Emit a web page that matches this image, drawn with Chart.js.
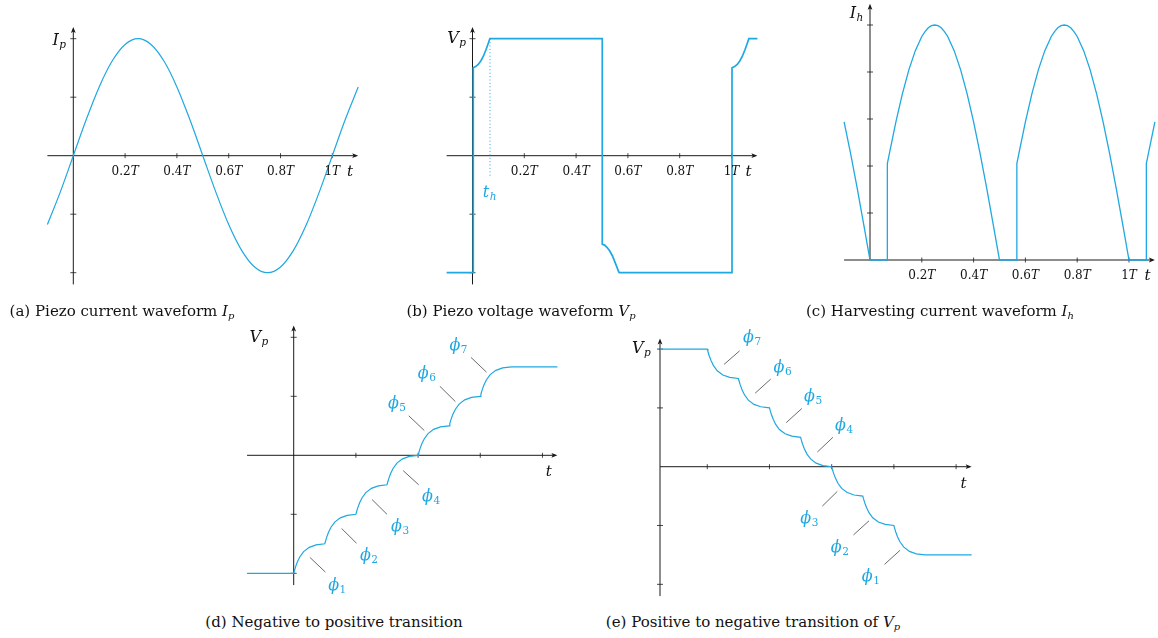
<!DOCTYPE html>
<html lang="en">
<head>
    <meta charset="UTF-8">
    <title>Piezo waveforms</title>
    <script src="https://cdnjs.cloudflare.com/ajax/libs/Chart.js/4.4.0/chart.umd.min.js"></script>
    <style>
        body {
            margin: 0;
            background: #fff;
            width: 1158px;
            height: 638px;
            position: relative;
            overflow: hidden;
            font-family: "DejaVu Serif", serif;
        }
        canvas {
            position: absolute;
        }
        .cap {
            position: absolute;
            width: 360px;
            text-align: center;
            font-size: 15px;
            line-height: 18px;
            color: #111;
            white-space: nowrap;
        }
        .cap i sub {
            font-size: 10px;
            line-height: 0;
            vertical-align: -3px;
        }
    </style>
</head>
<body>
    <canvas id="chartA" width="380" height="300" style="left:0px;top:0px"></canvas>
    <canvas id="chartB" width="400" height="300" style="left:380px;top:0px"></canvas>
    <canvas id="chartC" width="378" height="300" style="left:780px;top:0px"></canvas>
    <canvas id="chartD" width="380" height="290" style="left:200px;top:318px"></canvas>
    <canvas id="chartE" width="420" height="290" style="left:580px;top:318px"></canvas>

    <div class="cap" style="left:-58px;top:302px">(a) Piezo current waveform <i>I<sub>p</sub></i></div>
    <div class="cap" style="left:341px;top:302px">(b) Piezo voltage waveform <i>V<sub>p</sub></i></div>
    <div class="cap" style="left:760px;top:302px">(c) Harvesting current waveform <i>I<sub>h</sub></i></div>
    <div class="cap" style="left:154px;top:613px">(d) Negative to positive transition</div>
    <div class="cap" style="left:573px;top:613px">(e) Positive to negative transition of <i>V<sub>p</sub></i></div>

    <script>
        // (a) piezo current over one period (t in units of T)
        const ipTime = [-0.1, -0.05, 0, 0.05, 0.1, 0.15, 0.2, 0.25, 0.3, 0.35, 0.4, 0.45, 0.5,
                        0.55, 0.6, 0.65, 0.7, 0.75, 0.8, 0.85, 0.9, 0.95, 1.0, 1.05, 1.1];
        const ipValue = [-0.588, -0.309, 0, 0.309, 0.588, 0.809, 0.951, 1, 0.951, 0.809, 0.588, 0.309, 0,
                         -0.309, -0.588, -0.809, -0.951, -1, -0.951, -0.809, -0.588, -0.309, 0, 0.309, 0.588];

        // (b) piezo voltage with the switching flips
        const vpTime = [-0.1, 0.003, 0.003, 0.012, 0.022, 0.032, 0.042, 0.052, 0.06, 0.067,
                        0.501, 0.501, 0.51, 0.52, 0.53, 0.54, 0.55, 0.558, 0.564, 0.567,
                        1.002, 1.002, 1.012, 1.022, 1.032, 1.042, 1.052, 1.06, 1.067, 1.1];
        const vpValue = [-1, -1, 0.752, 0.762, 0.78, 0.81, 0.85, 0.905, 0.955, 1,
                         1, -0.757, -0.764, -0.785, -0.815, -0.855, -0.91, -0.955, -0.99, -1,
                         -1, 0.752, 0.762, 0.78, 0.81, 0.85, 0.905, 0.955, 1, 1];

        // (c) harvesting current (rectified, zero while the voltage flips)
        const ihTime = [-0.1, -0.075, -0.05, -0.025, 0, 0.067, 0.067,
                        0.075, 0.1, 0.125, 0.15, 0.175, 0.2, 0.2125, 0.225, 0.2375, 0.25, 0.2625, 0.275,
                        0.2875, 0.3, 0.325, 0.35, 0.375, 0.4, 0.425, 0.45, 0.475, 0.5, 0.567, 0.567,
                        0.575, 0.6, 0.625, 0.65, 0.675, 0.7, 0.7125, 0.725, 0.7375, 0.75, 0.7625, 0.775,
                        0.7875, 0.8, 0.825, 0.85, 0.875, 0.9, 0.925, 0.95, 0.975, 1.0, 1.067, 1.067,
                        1.075, 1.1];
        const ihValue = [0.588, 0.454, 0.309, 0.156, 0, 0, 0.41,
                         0.454, 0.588, 0.707, 0.809, 0.891, 0.951, 0.972, 0.988, 0.997, 1, 0.997, 0.988,
                         0.972, 0.951, 0.891, 0.809, 0.707, 0.588, 0.454, 0.309, 0.156, 0, 0, 0.41,
                         0.454, 0.588, 0.707, 0.809, 0.891, 0.951, 0.972, 0.988, 0.997, 1, 0.997, 0.988,
                         0.972, 0.951, 0.891, 0.809, 0.707, 0.588, 0.454, 0.309, 0.156, 0, 0, 0.41,
                         0.454, 0.588];

        // (d) stepwise rise of Vp through seven phases
        const dTime = [-0.75,
            0, 0.01, 0.03, 0.06, 0.1, 0.16, 0.25, 0.36,
            0.5, 0.51, 0.53, 0.56, 0.6, 0.66, 0.75, 0.86,
            1, 1.01, 1.03, 1.06, 1.1, 1.16, 1.25, 1.36,
            1.5, 1.51, 1.53, 1.56, 1.6, 1.66, 1.75, 1.86,
            2, 2.01, 2.03, 2.06, 2.1, 2.16, 2.25, 2.36,
            2.5, 2.51, 2.53, 2.56, 2.6, 2.66, 2.75, 2.86,
            3, 3.01, 3.03, 3.06, 3.1, 3.16, 3.25, 3.36,
            3.5, 4.24];
        const dVolt = [-2,
            -2, -1.961, -1.891, -1.806, -1.719, -1.632, -1.56, -1.519,
            -1.5, -1.461, -1.391, -1.306, -1.219, -1.132, -1.06, -1.019,
            -1, -0.961, -0.891, -0.806, -0.719, -0.632, -0.56, -0.519,
            -0.5, -0.461, -0.391, -0.306, -0.219, -0.132, -0.06, -0.019,
            0, 0.039, 0.109, 0.194, 0.281, 0.368, 0.44, 0.481,
            0.5, 0.539, 0.609, 0.694, 0.781, 0.868, 0.94, 0.981,
            1, 1.039, 1.109, 1.194, 1.281, 1.368, 1.44, 1.481,
            1.5, 1.5];

        // (e) stepwise fall of Vp through seven phases
        const eTime = [-0.76,
            0, 0.01, 0.03, 0.06, 0.1, 0.16, 0.25, 0.36,
            0.5, 0.51, 0.53, 0.56, 0.6, 0.66, 0.75, 0.86,
            1, 1.01, 1.03, 1.06, 1.1, 1.16, 1.25, 1.36,
            1.5, 1.51, 1.53, 1.56, 1.6, 1.66, 1.75, 1.86,
            2, 2.01, 2.03, 2.06, 2.1, 2.16, 2.25, 2.36,
            2.5, 2.51, 2.53, 2.56, 2.6, 2.66, 2.75, 2.86,
            3, 3.01, 3.03, 3.06, 3.1, 3.16, 3.25, 3.36,
            3.5, 4.25];
        const eVolt = [2,
            2, 1.961, 1.891, 1.806, 1.719, 1.632, 1.56, 1.519,
            1.5, 1.461, 1.391, 1.306, 1.219, 1.132, 1.06, 1.019,
            1, 0.961, 0.891, 0.806, 0.719, 0.632, 0.56, 0.519,
            0.5, 0.461, 0.391, 0.306, 0.219, 0.132, 0.06, 0.019,
            0, -0.039, -0.109, -0.194, -0.281, -0.368, -0.44, -0.481,
            -0.5, -0.539, -0.609, -0.694, -0.781, -0.868, -0.94, -0.981,
            -1, -1.039, -1.109, -1.194, -1.281, -1.368, -1.44, -1.481,
            -1.5, -1.5];

        // tick values and labels
        const periodTicks = [0.2, 0.4, 0.6, 0.8, 1];
        const periodTickText = ['0.2', '0.4', '0.6', '0.8', '1'];
        const halfTicks = [-1, -0.5, 0.5, 1];
        const ihTicks = [0.2, 0.4, 0.6, 0.8, 1];
        const stepTicksD = [1, 2, 3, 4];
        const stepTicksE = [0, 1, 2, 3, 4];
        const voltTicks = [-2, -1, 1, 2];

        // phase marks: leader line [x1, y1, x2, y2] and label spot [x, y] for phi_1..phi_7
        const dPhiLines = [[0.26, -1.73, 0.51, -1.98], [0.77, -1.24, 1.01, -1.49], [1.26, -0.75, 1.50, -1.00],
                           [1.76, -0.26, 2.01, -0.50], [1.85, 0.67, 2.10, 0.42], [2.35, 1.17, 2.60, 0.91],
                           [2.85, 1.66, 3.10, 1.41]];
        const dPhiSpots = [[0.70, -2.21], [1.21, -1.70], [1.71, -1.21], [2.21, -0.70], [1.66, 0.87], [2.14, 1.37], [2.65, 1.85]];
        const ePhiLines = [[2.85, -1.66, 3.10, -1.42], [2.35, -1.16, 2.60, -0.92], [1.85, -0.67, 2.09, -0.42],
                           [1.77, 0.25, 2.02, 0.50], [1.27, 0.75, 1.52, 0.99], [0.77, 1.25, 1.02, 1.49],
                           [0.27, 1.74, 0.52, 1.97]];
        const ePhiSpots = [[2.63, -1.88], [2.13, -1.38], [1.64, -0.89], [2.20, 0.70], [1.70, 1.19], [1.21, 1.68], [0.72, 2.19]];

        const LINE = '#1fa8e1';
        const AXIS = '#1a1a1a';
        const LEADER = '#6b6b6b';
        const SERIF = '"DejaVu Serif", serif';

        // italic symbol with a subscript, e.g. V_p
        function drawSym(ctx, main, sub, x, y, align, color, subUpright) {
            ctx.fillStyle = color;
            ctx.textAlign = 'left';
            ctx.textBaseline = 'alphabetic';
            ctx.font = 'italic 16px ' + SERIF;
            const w1 = ctx.measureText(main).width;
            ctx.font = (subUpright ? '' : 'italic ') + '10.5px ' + SERIF;
            const w2 = ctx.measureText(sub).width;
            const total = w1 + w2 + 0.5;
            let x0 = x;
            if (align === 'right') x0 = x - total;
            if (align === 'center') x0 = x - total / 2;
            ctx.font = 'italic 16px ' + SERIF;
            ctx.fillText(main, x0, y);
            ctx.font = (subUpright ? '' : 'italic ') + '10.5px ' + SERIF;
            ctx.fillText(sub, x0 + w1 + 0.5, y + 3);
        }

        function arrowHead(ctx, x, y, dir) {
            ctx.beginPath();
            if (dir === 'up') {
                ctx.moveTo(x, y);
                ctx.lineTo(x - 2.4, y + 6);
                ctx.lineTo(x, y + 4.6);
                ctx.lineTo(x + 2.4, y + 6);
            } else {
                ctx.moveTo(x, y);
                ctx.lineTo(x - 6, y - 2.4);
                ctx.lineTo(x - 4.6, y);
                ctx.lineTo(x - 6, y + 2.4);
            }
            ctx.closePath();
            ctx.fill();
        }

        // axes through the origin, ticks, labels and phase annotations
        function decorations(d) {
            return {
                id: 'decorations',
                beforeDatasetsDraw(chart) {
                    const ctx = chart.ctx;
                    const sx = chart.scales.x, sy = chart.scales.y;
                    const X = v => sx.getPixelForValue(v);
                    const Y = v => sy.getPixelForValue(v);
                    const axisY = Y(0);
                    const axisX = X(d.yAxisAt);
                    ctx.save();
                    ctx.strokeStyle = AXIS;
                    ctx.fillStyle = AXIS;
                    ctx.lineWidth = 1;

                    // horizontal axis
                    ctx.beginPath();
                    ctx.moveTo(X(d.xAxisFrom), axisY);
                    ctx.lineTo(X(sx.max) - 2, axisY);
                    ctx.stroke();
                    arrowHead(ctx, X(sx.max), axisY, 'right');

                    // vertical axis
                    ctx.beginPath();
                    ctx.moveTo(axisX, Y(d.yAxisFrom));
                    ctx.lineTo(axisX, Y(sy.max) + 2);
                    ctx.stroke();
                    arrowHead(ctx, axisX, Y(sy.max), 'up');

                    ctx.lineWidth = 0.8;
                    d.xTicks.forEach(v => {
                        ctx.beginPath();
                        ctx.moveTo(X(v), axisY - 2.5);
                        ctx.lineTo(X(v), axisY + 2.5);
                        ctx.stroke();
                    });
                    d.yTicks.forEach(v => {
                        ctx.beginPath();
                        ctx.moveTo(axisX - 3, Y(v));
                        ctx.lineTo(axisX + 3, Y(v));
                        ctx.stroke();
                    });

                    if (d.guide) {
                        ctx.strokeStyle = LINE;
                        ctx.lineWidth = 1;
                        ctx.setLineDash([1, 2.4]);
                        ctx.beginPath();
                        ctx.moveTo(X(d.guide.x), Y(d.guide.from));
                        ctx.lineTo(X(d.guide.x), Y(d.guide.to));
                        ctx.stroke();
                        ctx.setLineDash([]);
                    }

                    if (d.phiLines) {
                        ctx.strokeStyle = LEADER;
                        ctx.lineWidth = 1;
                        d.phiLines.forEach(l => {
                            ctx.beginPath();
                            ctx.moveTo(X(l[0]), Y(l[1]));
                            ctx.lineTo(X(l[2]), Y(l[3]));
                            ctx.stroke();
                        });
                    }
                    ctx.restore();
                },
                afterDatasetsDraw(chart) {
                    const ctx = chart.ctx;
                    const sx = chart.scales.x, sy = chart.scales.y;
                    const X = v => sx.getPixelForValue(v);
                    const Y = v => sy.getPixelForValue(v);
                    ctx.save();

                    if (d.tickText) {
                        d.xTicks.forEach((v, i) => {
                            ctx.font = '12px ' + SERIF;
                            const w1 = ctx.measureText(d.tickText[i]).width;
                            ctx.font = 'italic 12px ' + SERIF;
                            const w2 = ctx.measureText('T').width;
                            const x0 = X(v) - (w1 + w2) / 2;
                            const y0 = Y(0) + 19;
                            ctx.fillStyle = '#111';
                            ctx.textAlign = 'left';
                            ctx.textBaseline = 'alphabetic';
                            ctx.font = '12px ' + SERIF;
                            ctx.fillText(d.tickText[i], x0, y0);
                            ctx.font = 'italic 12px ' + SERIF;
                            ctx.fillText('T', x0 + w1, y0);
                        });
                    }

                    drawSym(ctx, d.yLabel[0], d.yLabel[1], X(d.yLabel[2]), Y(d.yLabel[3]), 'right', '#111', false);

                    ctx.fillStyle = '#111';
                    ctx.font = 'italic 15px ' + SERIF;
                    ctx.textAlign = 'center';
                    ctx.textBaseline = 'alphabetic';
                    ctx.fillText('t', X(d.tLabel[0]), Y(d.tLabel[1]));

                    if (d.guideLabel) {
                        drawSym(ctx, 't', 'h', X(d.guideLabel[0]), Y(d.guideLabel[1]), 'center', LINE, false);
                    }

                    if (d.phiSpots) {
                        d.phiSpots.forEach((p, i) => {
                            drawSym(ctx, '\u03d5', String(i + 1), X(p[0]), Y(p[1]) + 4, 'center', LINE, true);
                        });
                    }
                    ctx.restore();
                }
            };
        }

        function buildPanel(id, box, area, xRange, yRange, times, values, lineWidth, smooth, decor) {
            const points = times.map((t, i) => ({ x: t, y: values[i] }));
            return new Chart(document.getElementById(id), {
                type: 'line',
                data: {
                    datasets: [{
                        data: points,
                        borderColor: LINE,
                        borderWidth: lineWidth,
                        pointRadius: 0,
                        fill: false,
                        clip: false,
                        tension: 0,
                        cubicInterpolationMode: smooth ? 'monotone' : 'default'
                    }]
                },
                options: {
                    responsive: false,
                    animation: false,
                    events: [],
                    layout: {
                        padding: {
                            left: area.l - box.x,
                            top: area.t - box.y,
                            right: box.x + box.w - area.r,
                            bottom: box.y + box.h - area.b
                        }
                    },
                    plugins: {
                        legend: { display: false },
                        tooltip: { enabled: false }
                    },
                    scales: {
                        x: { type: 'linear', min: xRange[0], max: xRange[1], display: false },
                        y: { type: 'linear', min: yRange[0], max: yRange[1], display: false }
                    }
                },
                plugins: [decorations(decor)]
            });
        }

        buildPanel('chartA', { x: 0, y: 0, w: 380, h: 300 }, { l: 47.4, t: 27, r: 358.2, b: 284.4 },
            [-0.1, 1.1], [-1.1, 1.1], ipTime, ipValue, 1.2, true, {
                yAxisAt: 0, yAxisFrom: -1.1, xAxisFrom: -0.1,
                xTicks: periodTicks, tickText: periodTickText, yTicks: halfTicks,
                yLabel: ['I', 'p', -0.028, 0.946], tLabel: [1.068, -0.174]
            });

        buildPanel('chartB', { x: 380, y: 0, w: 400, h: 300 }, { l: 446.6, t: 27, r: 757.4, b: 284.4 },
            [-0.1, 1.1], [-1.1, 1.1], vpTime, vpValue, 1.7, false, {
                yAxisAt: 0, yAxisFrom: -1.1, xAxisFrom: -0.1,
                xTicks: periodTicks, tickText: periodTickText, yTicks: halfTicks,
                yLabel: ['V', 'p', -0.025, 0.963], tLabel: [1.066, -0.174],
                guide: { x: 0.0676, from: 1, to: -0.19 }, guideLabel: [0.066, -0.353]
            });

        buildPanel('chartC', { x: 780, y: 0, w: 378, h: 300 }, { l: 844.1, t: 3.85, r: 1154.9, b: 260 },
            [-0.1, 1.1], [0, 1.09], ihTime, ihValue, 1.3, false, {
                yAxisAt: 0, yAxisFrom: 0, xAxisFrom: -0.1,
                xTicks: periodTicks, tickText: periodTickText, yTicks: ihTicks,
                yLabel: ['I', 'h', -0.026, 1.029], tLabel: [1.071, -0.085]
            });

        buildPanel('chartD', { x: 200, y: 318, w: 380, h: 290 }, { l: 247.05, t: 325.5, r: 557.4, b: 585.1 },
            [-0.75, 4.24], [-2.2, 2.2], dTime, dVolt, 1.2, false, {
                yAxisAt: 0, yAxisFrom: -2.2, xAxisFrom: -0.75,
                xTicks: stepTicksD, yTicks: voltTicks,
                yLabel: ['V', 'p', -0.41, 1.925], tLabel: [4.10, -0.35],
                phiLines: dPhiLines, phiSpots: dPhiSpots
            });

        buildPanel('chartE', { x: 580, y: 318, w: 420, h: 290 }, { l: 660.0, t: 338.5, r: 971.65, b: 596.1 },
            [-0.76, 4.25], [-2.2, 2.18], eTime, eVolt, 1.2, false, {
                yAxisAt: -0.76, yAxisFrom: -2.2, xAxisFrom: -0.76,
                xTicks: stepTicksE, yTicks: voltTicks,
                yLabel: ['V', 'p', -0.91, 1.934], tLabel: [4.12, -0.357],
                phiLines: ePhiLines, phiSpots: ePhiSpots
            });
    </script>
</body>
</html>
